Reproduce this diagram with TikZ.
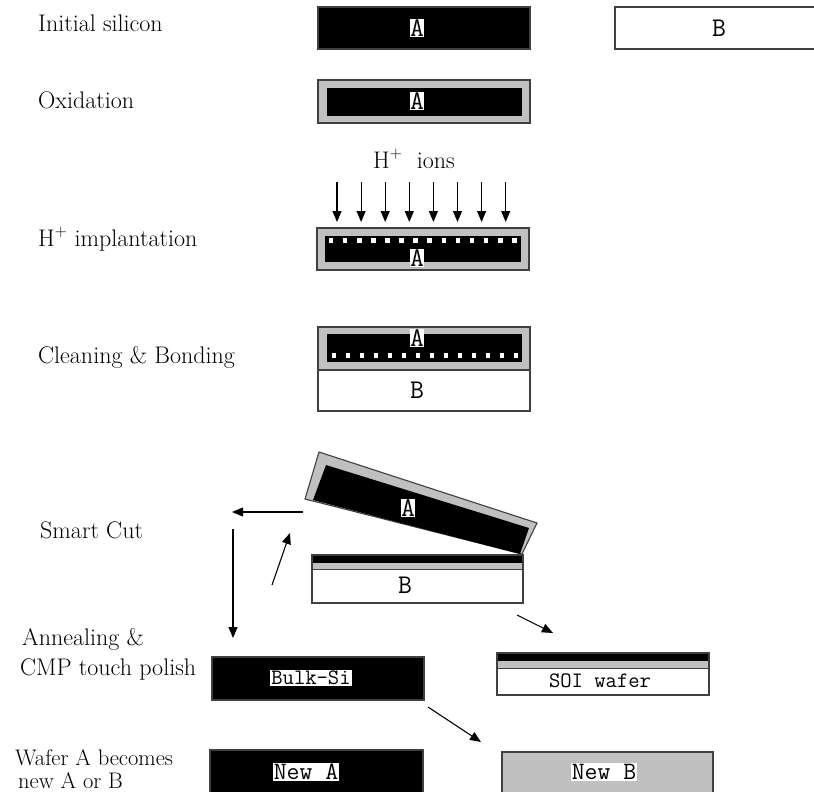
\documentclass[tikz,border=0pt]{standalone}
\usepackage{fontspec}
\usetikzlibrary{arrows.meta}
\definecolor{oxide}{HTML}{C0C0C0}
\definecolor{edge}{HTML}{404040}
\tikzset{
  lbl/.style={font=\fontsize{24}{28}\selectfont, inner sep=0pt, anchor=base west},
  slbl/.style={font=\fontsize{22.5}{24}\selectfont, inner sep=0pt, anchor=base west},
  tag/.style={font=\ttfamily\fontsize{27}{29}\selectfont, fill=white, inner sep=0.3pt},
  wtag/.style={font=\ttfamily\fontsize{22}{24}\selectfont, fill=white, inner sep=1pt},
  arr/.style={line width=1.1pt, -{Triangle[width=9pt,length=11pt]}},
  sibox/.style={fill=black, draw=edge, line width=1.1pt},
  oxbox/.style={fill=oxide, draw=edge, line width=1.1pt},
  whbox/.style={fill=white, draw=edge, line width=1.1pt},
  hole/.style={fill=white},
}
\begin{document}
\begin{tikzpicture}[x=1pt,y=-1pt]
\useasboundingbox (0,0) rectangle (814,792);
\clip (0,0) rectangle (814,792);
\fill[white] (0,0) rectangle (814,792);

% ---- left labels
\node[lbl] (t1) at (38,32) {Initial silicon};
\node[lbl] (t2) at (38,108) {Oxidation};
\node[lbl] (t3) at (38,246) {H\textsuperscript{+} implantation};
\node[lbl] (t4) at (38,363) {Cleaning \& Bonding};
\node[lbl] (t5) at (40,538) {Smart Cut};
\node[lbl] (t6) at (22,645) {Annealing \&};
\node[lbl] (t7) at (20,675) {CMP touch polish};
\node[slbl] (t8) at (15,765) {Wafer A becomes};
\node[slbl] (t9) at (18,788) {new A or B};

% ---- step 1: initial silicon
\draw[sibox] (318,7) rectangle (530,49);
\node[tag] (a1) at (417,28) {A};
\draw[whbox] (615,7) rectangle (830,49);
\node[tag, fill=none] (b1) at (719,28) {B};

% ---- step 2: oxidation
\draw[oxbox] (318,80) rectangle (530,123);
\fill[black] (327,88) rectangle (522,116);
\node[tag] (a2) at (417,101) {A};

% ---- step 3: implantation
\node[lbl, anchor=base west] (ions) at (373,168) {H\textsuperscript{+}\ \ ions};
\foreach \i in {0,...,7} {
  \coordinate (is\i) at ({337+24.1*\i},182);
  \coordinate (ie\i) at ({337+24.1*\i},222);
  \draw[arr] (is\i) -- (ie\i);
}
\draw[oxbox] (317,228) rectangle (529,270);
\fill[black] (325,236) rectangle (521,262);
\foreach \i in {0,...,13} {
  \fill[hole] ({331+14.1*\i-2.3},238) rectangle ++(4.6,4.6);
}
\node[tag] (a3) at (417,258) {A};

% ---- step 4: cleaning & bonding
\draw[oxbox] (318,327) rectangle (530,370);
\fill[black] (327,334) rectangle (522,362);
\foreach \i in {0,...,13} {
  \fill[hole] ({334+14*\i-2.3},353.3) rectangle ++(4.6,4.6);
}
\node[tag] (a4) at (417,338) {A};
\draw[whbox] (318,370) rectangle (530,411);
\node[tag, fill=none] (b4) at (417,390) {B};

% ---- step 5: smart cut
\draw[oxbox] (319,452) -- (537,523) -- (522,554) -- (305,499) -- cycle;
\fill[black] (326,465) -- (529,528) -- (520,554) -- (313,500) -- cycle;
\node[tag] (a5) at (408,508) {A};

\draw[whbox] (312,555) rectangle (523,603);
\fill[black] (312,555) rectangle (523,563);
\fill[oxide] (312,563) rectangle (523,569);
\draw[edge, line width=1.1pt] (312,555) rectangle (523,603);
\draw[edge, line width=0.8pt] (312,569) -- (523,569);
\node[tag, fill=none] (b5) at (405,585) {B};

\coordinate (l1) at (303,512);
\coordinate (l2) at (232,512);
\coordinate (d1) at (272,585);
\coordinate (d2) at (290,533);
\coordinate (v1) at (233,529);
\coordinate (v2) at (233,638);
\coordinate (s1) at (517,615);
\coordinate (s2) at (553,633);
\coordinate (n1) at (428,707);
\coordinate (n2) at (481,742);
\draw[arr] (l1) -- (l2);
\draw[arr] (d1) -- (d2);
\draw[arr] (v1) -- (v2);
\draw[arr] (s1) -- (s2);
\draw[arr] (n1) -- (n2);

% ---- SOI wafer
\draw[whbox] (497,653) rectangle (709,695);
\fill[black] (497,653) rectangle (709,661);
\fill[oxide] (497,661) rectangle (709,668);
\draw[edge, line width=1.1pt] (497,653) rectangle (709,695);
\draw[edge, line width=0.8pt] (497,668) -- (709,668);
\node[wtag, fill=none] (soi) at (600,681) {SOI wafer};

% ---- bulk Si
\draw[sibox] (212,657) rectangle (424,700);
\node[wtag] (bulk) at (311,678) {Bulk-Si};

% ---- new A / new B
\draw[sibox] (210,750) rectangle (423,810);
\node[wtag, font=\ttfamily\fontsize{25}{27}\selectfont] (newa) at (306,772) {New A};
\draw[oxbox] (502,752) rectangle (713,810);
\node[wtag, font=\ttfamily\fontsize{25}{27}\selectfont] (newb) at (604,772) {New B};
\end{tikzpicture}
\end{document}
